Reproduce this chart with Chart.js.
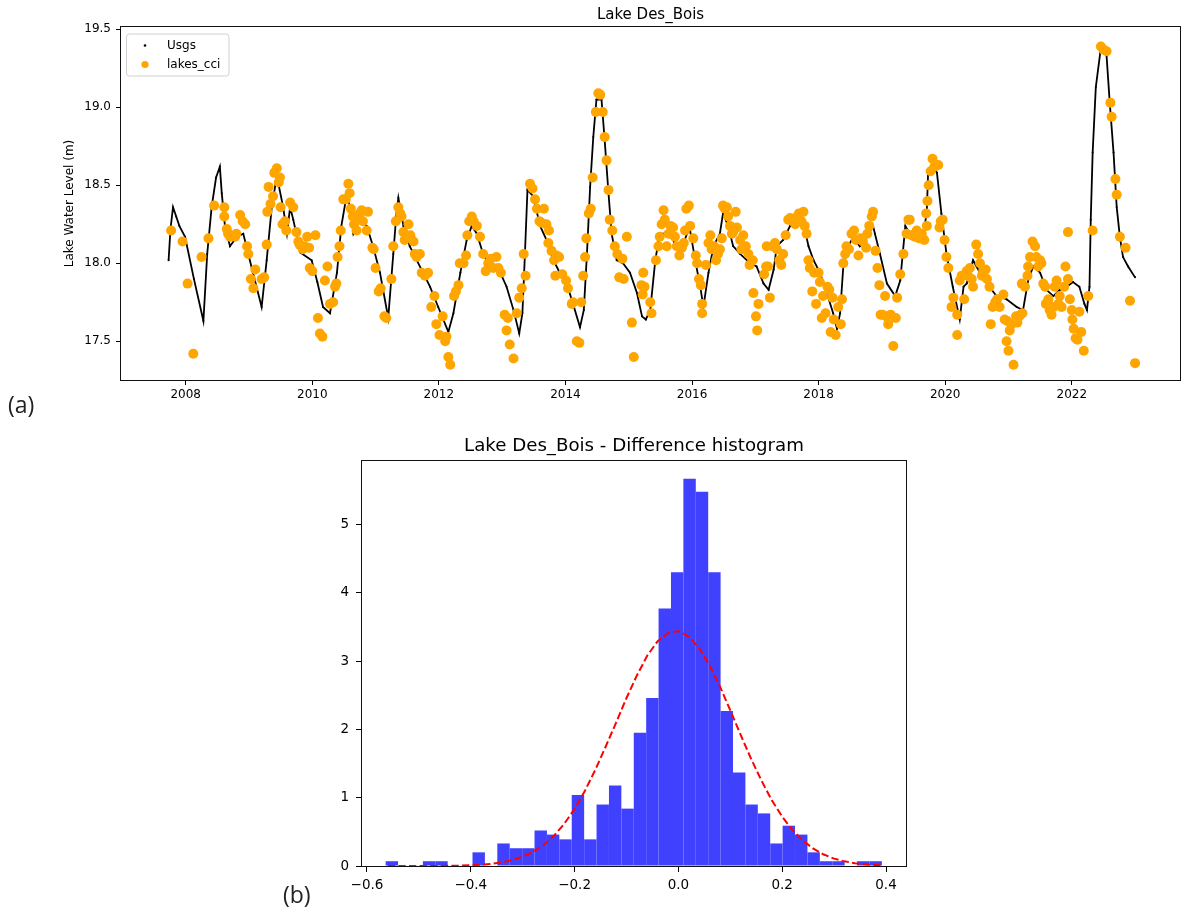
<!DOCTYPE html>
<html>
<head>
<meta charset="utf-8">
<title>Lake Des_Bois</title>
<script src="https://cdn.jsdelivr.net/npm/chart.js@4.4.0/dist/chart.umd.min.js"></script>
<style>
  html, body { margin: 0; padding: 0; background: #fff; }
  body { width: 1181px; height: 908px; position: relative; overflow: hidden; }
  canvas { position: absolute; left: 0; }
  #levelChart { top: 0; }
  #histChart { top: 420px; }
  .panel { position: absolute; font-family: "Open Sans", sans-serif; font-size: 23px; line-height: 23px; color: #222; }
</style>
</head>
<body>
<canvas id="levelChart" width="1181" height="420"></canvas>
<canvas id="histChart" width="1181" height="488"></canvas>
<div class="panel" style="left:8px; top:393px">(a)</div>
<div class="panel" style="left:283px; top:883px">(b)</div>
<script>
// ---- data ----
const levelTitle = 'Lake Des_Bois';
const levelAxisTitle = 'Lake Water Level (m)';
const histTitle = 'Lake Des_Bois - Difference histogram';

const yearTicks = [2008, 2010, 2012, 2014, 2016, 2018, 2020, 2022];
const levelTicks = [17.5, 18.0, 18.5, 19.0, 19.5];

// USGS gauge (decimal year, m)
const usgsYear = [
  2007.73, 2007.76, 2007.80, 2007.85, 2007.90, 2007.99, 2008.13, 2008.28, 2008.34, 2008.41,
  2008.48, 2008.54, 2008.57, 2008.62, 2008.70, 2008.81, 2008.91, 2009.05, 2009.20, 2009.28,
  2009.36, 2009.44, 2009.54, 2009.60, 2009.65, 2009.70, 2009.81, 2009.99, 2010.08, 2010.17,
  2010.28, 2010.39, 2010.46, 2010.54, 2010.60, 2010.65, 2010.75, 2010.86, 2010.96, 2011.07,
  2011.20, 2011.28, 2011.33, 2011.36, 2011.44, 2011.54, 2011.65, 2011.75, 2011.86, 2011.99,
  2012.07, 2012.15, 2012.23, 2012.34, 2012.44, 2012.52, 2012.60, 2012.70, 2012.81, 2012.97,
  2013.07, 2013.18, 2013.27, 2013.32, 2013.36, 2013.40, 2013.49, 2013.60, 2013.70, 2013.81,
  2013.91, 2014.02, 2014.12, 2014.23, 2014.29, 2014.34, 2014.39, 2014.44, 2014.49, 2014.57,
  2014.62, 2014.68, 2014.73, 2014.81, 2014.91, 2015.02, 2015.13, 2015.21, 2015.27, 2015.34,
  2015.42, 2015.49, 2015.60, 2015.70, 2015.81, 2015.92, 2015.97, 2016.05, 2016.13, 2016.18,
  2016.26, 2016.34, 2016.44, 2016.49, 2016.57, 2016.65, 2016.76, 2016.92, 2017.02, 2017.13,
  2017.21, 2017.29, 2017.34, 2017.44, 2017.55, 2017.65, 2017.76, 2017.84, 2017.92, 2018.02,
  2018.13, 2018.23, 2018.29, 2018.34, 2018.39, 2018.47, 2018.55, 2018.65, 2018.76, 2018.86,
  2018.89, 2018.97, 2019.08, 2019.21, 2019.29, 2019.37, 2019.44, 2019.55, 2019.65, 2019.71,
  2019.73, 2019.81, 2019.87, 2019.94, 2020.02, 2020.12, 2020.23, 2020.29, 2020.34, 2020.44,
  2020.55, 2020.66, 2020.81, 2020.97, 2021.13, 2021.23, 2021.31, 2021.39, 2021.50, 2021.60,
  2021.71, 2021.81, 2021.92, 2022.02, 2022.12, 2022.20, 2022.24, 2022.28, 2022.30, 2022.33,
  2022.38, 2022.45, 2022.51, 2022.55, 2022.60, 2022.66, 2022.71, 2022.76, 2022.81, 2022.89,
  2023.00
];
const usgsLevel = [
  18.02, 18.22, 18.36, 18.30, 18.24, 18.17, 17.90, 17.63, 18.06, 18.36,
  18.55, 18.62, 18.45, 18.24, 18.11, 18.17, 18.19, 17.96, 17.72, 18.02,
  18.36, 18.56, 18.36, 18.19, 18.36, 18.28, 18.07, 18.02, 17.88, 17.72,
  17.68, 17.94, 18.24, 18.43, 18.36, 18.19, 18.28, 18.24, 18.11, 17.94,
  17.65, 18.06, 18.32, 18.42, 18.24, 18.11, 18.02, 17.94, 17.85, 17.72,
  17.64, 17.56, 17.68, 17.94, 18.15, 18.24, 18.19, 18.06, 17.98, 17.94,
  17.85, 17.70, 17.55, 17.68, 18.06, 18.47, 18.43, 18.24, 18.15, 18.02,
  17.94, 17.87, 17.74, 17.59, 17.70, 18.06, 18.49, 18.81, 19.05, 19.05,
  18.79, 18.45, 18.19, 18.02, 18.00, 17.94, 17.81, 17.66, 17.64, 17.70,
  18.02, 18.19, 18.19, 18.15, 18.06, 18.19, 18.21, 18.02, 17.85, 17.72,
  17.94, 18.11, 18.19, 18.32, 18.24, 18.11, 18.06, 18.00, 17.98, 17.87,
  17.83, 17.96, 18.11, 18.15, 18.24, 18.28, 18.26, 18.11, 18.02, 17.94,
  17.81, 17.68, 17.58, 17.68, 17.98, 18.11, 18.17, 18.11, 18.17, 18.24,
  18.19, 18.06, 17.87, 17.79, 17.89, 18.24, 18.19, 18.19, 18.15, 18.34,
  18.58, 18.62, 18.58, 18.32, 18.06, 17.85, 17.64, 17.85, 17.87, 18.02,
  17.94, 17.87, 17.79, 17.77, 17.72, 17.70, 17.89, 17.98, 17.94, 17.83,
  17.79, 17.83, 17.85, 17.88, 17.85, 17.74, 17.70, 17.85, 18.28, 18.71,
  19.13, 19.35, 19.38, 19.33, 19.03, 18.71, 18.36, 18.17, 18.04, 17.98,
  17.91
];

// lakes_cci altimetry (decimal year, m)
const cciYear = [
  2007.77, 2007.95, 2008.03, 2008.12, 2008.25, 2008.36, 2008.45, 2008.61, 2008.61, 2008.65,
  2008.67, 2008.70, 2008.78, 2008.80, 2008.86, 2008.90, 2008.94, 2008.97, 2008.99, 2009.03,
  2009.07, 2009.10, 2009.20, 2009.24, 2009.28, 2009.29, 2009.31, 2009.34, 2009.38, 2009.40,
  2009.44, 2009.47, 2009.49, 2009.50, 2009.53, 2009.57, 2009.59, 2009.65, 2009.70, 2009.75,
  2009.78, 2009.80, 2009.85, 2009.88, 2009.92, 2009.95, 2009.96, 2010.00, 2010.05, 2010.09,
  2010.12, 2010.16, 2010.20, 2010.24, 2010.28, 2010.33, 2010.36, 2010.38, 2010.40, 2010.43,
  2010.45, 2010.49, 2010.53, 2010.57, 2010.59, 2010.61, 2010.64, 2010.66, 2010.70, 2010.73,
  2010.75, 2010.78, 2010.80, 2010.86, 2010.88, 2010.95, 2010.97, 2011.00, 2011.05, 2011.08,
  2011.14, 2011.17, 2011.25, 2011.28, 2011.32, 2011.36, 2011.39, 2011.41, 2011.44, 2011.46,
  2011.52, 2011.55, 2011.60, 2011.62, 2011.65, 2011.70, 2011.73, 2011.78, 2011.83, 2011.88,
  2011.93, 2011.96, 2012.01, 2012.06, 2012.10, 2012.12, 2012.15, 2012.18, 2012.24, 2012.27,
  2012.31, 2012.33, 2012.39, 2012.43, 2012.45, 2012.48, 2012.52, 2012.55, 2012.60, 2012.65,
  2012.70, 2012.74, 2012.78, 2012.82, 2012.86, 2012.91, 2012.94, 2012.98, 2013.04, 2013.07,
  2013.09, 2013.12, 2013.18, 2013.23, 2013.27, 2013.31, 2013.34, 2013.37, 2013.44, 2013.48,
  2013.52, 2013.55, 2013.59, 2013.62, 2013.66, 2013.70, 2013.73, 2013.74, 2013.78, 2013.82,
  2013.84, 2013.86, 2013.90, 2013.95, 2014.01, 2014.04, 2014.10, 2014.12, 2014.18, 2014.22,
  2014.25, 2014.28, 2014.31, 2014.33, 2014.37, 2014.40, 2014.43, 2014.48, 2014.52, 2014.55,
  2014.59, 2014.62, 2014.65, 2014.68, 2014.70, 2014.74, 2014.78, 2014.82, 2014.85, 2014.90,
  2014.92, 2014.97, 2015.05, 2015.08, 2015.20, 2015.23, 2015.25, 2015.22, 2015.34, 2015.36,
  2015.43, 2015.47, 2015.49, 2015.52, 2015.55, 2015.57, 2015.60, 2015.63, 2015.66, 2015.70,
  2015.73, 2015.76, 2015.80, 2015.84, 2015.87, 2015.89, 2015.91, 2015.95, 2015.97, 2016.02,
  2016.06, 2016.08, 2016.11, 2016.14, 2016.16, 2016.16, 2016.22, 2016.26, 2016.29, 2016.31,
  2016.35, 2016.38, 2016.41, 2016.44, 2016.47, 2016.49, 2016.52, 2016.55, 2016.57, 2016.60,
  2016.63, 2016.65, 2016.69, 2016.71, 2016.76, 2016.78, 2016.81, 2016.85, 2016.89, 2016.91,
  2016.96, 2016.97, 2017.01, 2017.03, 2017.05, 2017.14, 2017.17, 2017.18, 2017.20, 2017.23,
  2017.27, 2017.31, 2017.34, 2017.38, 2017.41, 2017.44, 2017.48, 2017.52, 2017.55, 2017.59,
  2017.63, 2017.66, 2017.69, 2017.73, 2017.76, 2017.78, 2017.81, 2017.84, 2017.86, 2017.90,
  2017.93, 2017.96, 2018.00, 2018.02, 2018.05, 2018.07, 2018.11, 2018.14, 2018.17, 2018.19,
  2018.22, 2018.24, 2018.27, 2018.31, 2018.35, 2018.37, 2018.39, 2018.42, 2018.44, 2018.48,
  2018.52, 2018.56, 2018.59, 2018.63, 2018.66, 2018.70, 2018.75, 2018.77, 2018.80, 2018.84,
  2018.86, 2018.90, 2018.93, 2018.96, 2018.98, 2019.01, 2019.05, 2019.07, 2019.10, 2019.14,
  2019.18, 2019.22, 2019.24, 2019.29, 2019.34, 2019.39, 2019.42, 2019.44, 2019.47, 2019.52,
  2019.55, 2019.59, 2019.63, 2019.67, 2019.71, 2019.70, 2019.72, 2019.74, 2019.77, 2019.80,
  2019.83, 2019.89, 2019.91, 2019.93, 2019.96, 2019.99, 2020.02, 2020.05, 2020.13, 2020.10,
  2020.19, 2020.19, 2020.23, 2020.26, 2020.30, 2020.34, 2020.36, 2020.39, 2020.42, 2020.44,
  2020.49, 2020.52, 2020.55, 2020.58, 2020.60, 2020.64, 2020.66, 2020.70, 2020.72, 2020.75,
  2020.79, 2020.82, 2020.86, 2020.92, 2020.94, 2020.98, 2020.97, 2021.00, 2021.02, 2021.05,
  2021.08, 2021.12, 2021.14, 2021.17, 2021.19, 2021.22, 2021.21, 2021.26, 2021.30, 2021.31,
  2021.34, 2021.38, 2021.42, 2021.44, 2021.47, 2021.50, 2021.52, 2021.55, 2021.58, 2021.59,
  2021.63, 2021.65, 2021.68, 2021.71, 2021.73, 2021.76, 2021.79, 2021.81, 2021.84, 2021.88,
  2021.90, 2021.94, 2021.94, 2021.97, 2022.00, 2022.01, 2022.03, 2022.06, 2022.09, 2022.12,
  2022.15, 2022.19, 2022.26, 2022.33, 2022.46, 2022.50, 2022.55, 2022.61, 2022.63, 2022.69,
  2022.71, 2022.76, 2022.85, 2022.92, 2023.00
];
const cciLevel = [
  18.21, 18.14, 17.87, 17.42, 18.04, 18.16, 18.37, 18.36, 18.30, 18.22,
  18.19, 18.17, 18.17, 18.19, 18.31, 18.27, 18.25, 18.11, 18.06, 17.90,
  17.84, 17.96, 17.90, 17.91, 18.12, 18.33, 18.49, 18.38, 18.43, 18.58,
  18.61, 18.52, 18.55, 18.36, 18.25, 18.27, 18.21, 18.39, 18.36, 18.20,
  18.14, 18.12, 18.09, 18.11, 18.17, 18.10, 17.97, 17.95, 18.18, 17.65,
  17.55, 17.53, 17.89, 17.98, 17.74, 17.75, 17.85, 17.87, 18.04, 18.11,
  18.21, 18.41, 18.41, 18.51, 18.45, 18.35, 18.30, 18.25, 18.21, 18.30,
  18.32, 18.34, 18.27, 18.21, 18.33, 18.10, 18.09, 17.97, 17.82, 17.84,
  17.66, 17.65, 17.90, 18.11, 18.27, 18.36, 18.32, 18.30, 18.20, 18.15,
  18.25, 18.18, 18.14, 18.06, 18.04, 18.06, 17.94, 17.92, 17.94, 17.72,
  17.79, 17.61, 17.54, 17.66, 17.50, 17.53, 17.40, 17.35, 17.79, 17.82,
  17.86, 18.00, 18.00, 18.05, 18.18, 18.27, 18.30, 18.27, 18.24, 18.17,
  18.06, 17.95, 18.00, 18.03, 17.97, 18.04, 17.97, 17.94, 17.67, 17.57,
  17.65, 17.48, 17.39, 17.68, 17.78, 17.84, 18.06, 17.92, 18.51, 18.48,
  18.41, 18.35, 18.27, 18.26, 18.35, 18.25, 18.13, 18.21, 18.08, 18.02,
  17.92, 18.05, 18.04, 17.93, 17.89, 17.84, 17.74, 17.75, 17.50, 17.49,
  17.75, 17.92, 18.04, 18.16, 18.32, 18.35, 18.55, 18.97, 19.09, 19.08,
  18.97, 18.81, 18.66, 18.47, 18.28, 18.21, 18.11, 18.06, 17.91, 18.03,
  17.90, 18.17, 17.62, 17.40, 17.86, 17.94, 17.85, 17.80, 17.75, 17.68,
  18.02, 18.11, 18.17, 18.25, 18.34, 18.28, 18.11, 18.19, 18.24, 18.23,
  18.17, 18.11, 18.05, 18.10, 18.13, 18.21, 18.35, 18.37, 18.24, 18.16,
  18.05, 18.00, 17.90, 17.86, 17.74, 17.68, 17.99, 18.13, 18.18, 18.09,
  18.11, 18.02, 18.06, 18.09, 18.16, 18.37, 18.35, 18.36, 18.30, 18.24,
  18.19, 18.20, 18.33, 18.23, 18.15, 18.09, 18.18, 18.11, 18.06, 17.99,
  18.02, 17.81, 17.66, 17.57, 17.74, 17.93, 17.98, 18.11, 17.98, 17.78,
  18.11, 18.13, 18.09, 18.02, 17.99, 18.06, 18.18, 18.28, 18.29, 18.27,
  18.25, 18.30, 18.32, 18.27, 18.33, 18.24, 18.19, 18.02, 17.97, 17.82,
  17.94, 17.74, 17.94, 17.88, 17.65, 17.79, 17.68, 17.85, 17.83, 17.56,
  17.78, 17.64, 17.54, 17.72, 17.61, 17.77, 18.00, 18.06, 18.11, 18.09,
  18.19, 18.21, 18.15, 18.05, 18.16, 18.14, 18.10, 18.19, 18.24, 18.30,
  18.33, 18.08, 17.97, 17.86, 17.67, 17.67, 17.79, 17.66, 17.61, 17.67,
  17.47, 17.65, 17.78, 17.93, 18.06, 18.19, 18.28, 18.28, 18.18, 18.17,
  18.21, 18.16, 18.19, 18.15, 18.24, 18.32, 18.40, 18.50, 18.59, 18.67,
  18.62, 18.63, 18.23, 18.27, 18.28, 18.15, 18.04, 17.97, 17.78, 17.72,
  17.67, 17.54, 17.89, 17.92, 17.77, 17.95, 17.92, 17.97, 17.90, 17.85,
  18.12, 18.06, 18.00, 17.92, 17.95, 17.96, 17.90, 17.85, 17.61, 17.72,
  17.75, 17.77, 17.72, 17.80, 17.64, 17.63, 17.50, 17.44, 17.57, 17.61,
  17.35, 17.66, 17.62, 17.66, 17.67, 17.68, 17.87, 17.85, 17.92, 17.98,
  18.04, 18.14, 18.11, 18.04, 17.98, 18.02, 18.00, 17.87, 17.85, 17.74,
  17.77, 17.70, 17.67, 17.72, 17.85, 17.89, 17.74, 17.79, 17.72, 17.85,
  17.98, 18.20, 17.90, 17.77, 17.70, 17.64, 17.58, 17.52, 17.51, 17.69,
  17.56, 17.44, 17.79, 18.21, 19.39, 19.37, 19.36, 19.03, 18.94, 18.54,
  18.44, 18.17, 18.10, 17.76, 17.36
];

// histogram of differences (density), 40 equal bins
const binStart = -0.564;
const binWidth = 0.0239;
const histDensity = [
  0.07, 0, 0, 0.07, 0.07, 0, 0, 0.20, 0, 0.33,
  0.26, 0.26, 0.52, 0.46, 0.39, 1.04, 0.39, 0.90, 1.18, 0.84,
  1.95, 2.46, 3.77, 4.30, 5.67, 5.48, 4.30, 2.27, 1.37, 0.90,
  0.77, 0.33, 0.59, 0.46, 0.20, 0.07, 0.07, 0, 0.07, 0.07
];
// fitted normal curve as drawn (red dashed)
const normX = [
  -0.56, -0.54, -0.52, -0.50, -0.48, -0.46, -0.44, -0.42, -0.40, -0.38,
  -0.36, -0.34, -0.32, -0.30, -0.28, -0.26, -0.24, -0.22, -0.20, -0.18,
  -0.16, -0.14, -0.12, -0.10, -0.08, -0.06, -0.04, -0.02, 0.00, 0.02,
  0.04, 0.06, 0.08, 0.10, 0.12, 0.14, 0.16, 0.18, 0.20, 0.22,
  0.24, 0.26, 0.28, 0.30, 0.32, 0.34, 0.36, 0.38, 0.39
];
const normY = [
  0.0000, 0.0001, 0.0002, 0.0004, 0.0008, 0.0016, 0.0030, 0.0057, 0.0104, 0.0184,
  0.0318, 0.0531, 0.0862, 0.136, 0.207, 0.307, 0.442, 0.617, 0.837, 1.103,
  1.41, 1.75, 2.10, 2.46, 2.79, 3.08, 3.29, 3.41, 3.44, 3.36,
  3.19, 2.94, 2.63, 2.28, 1.92, 1.57, 1.25, 0.962, 0.721, 0.524,
  0.370, 0.253, 0.168, 0.108, 0.068, 0.041, 0.0243, 0.014, 0.0104
];
const diffTicks = [-0.6, -0.4, -0.2, 0.0, 0.2, 0.4];
const densityTicks = [0, 1, 2, 3, 4, 5];

// ---- charts ----
Chart.defaults.font.family = '"DejaVu Sans", sans-serif';
Chart.defaults.color = '#000';
Chart.defaults.animation = false;

const FONT = '"DejaVu Sans", sans-serif';

// matplotlib-like box around the plot
const frame = {
  id: 'frame',
  afterDatasetsDraw(chart) {
    const { ctx, chartArea: a } = chart;
    ctx.save();
    ctx.strokeStyle = '#111';
    ctx.lineWidth = 1;
    ctx.strokeRect(Math.round(a.left) - 0.5, Math.round(a.top) - 0.5,
      Math.round(a.right - a.left) + 1, Math.round(a.bottom - a.top) + 1);
    ctx.restore();
  }
};

function tickScale(ticks) {
  return s => { s.ticks = ticks.map(v => ({ value: v })); };
}

const levelDecor = {
  id: 'levelDecor',
  afterDraw(chart) {
    const { ctx, chartArea: a } = chart;
    ctx.save();
    ctx.fillStyle = '#000';
    ctx.textAlign = 'center';
    ctx.textBaseline = 'middle';
    ctx.font = '15px ' + FONT;
    ctx.fillText(levelTitle, (a.left + a.right) / 2, 15);
    ctx.font = '12px ' + FONT;
    ctx.translate(70, (a.top + a.bottom) / 2);
    ctx.rotate(-Math.PI / 2);
    ctx.fillText(levelAxisTitle, 0, 0);
    ctx.restore();

    // legend box, upper left
    const x = a.left + 5.5, y = a.top + 7, w = 102.5, h = 42, r = 3;
    ctx.save();
    ctx.beginPath();
    ctx.moveTo(x + r, y);
    ctx.arcTo(x + w, y, x + w, y + h, r);
    ctx.arcTo(x + w, y + h, x, y + h, r);
    ctx.arcTo(x, y + h, x, y, r);
    ctx.arcTo(x, y, x + w, y, r);
    ctx.closePath();
    ctx.fillStyle = 'rgba(255,255,255,0.8)';
    ctx.fill();
    ctx.strokeStyle = '#d0d0d0';
    ctx.lineWidth = 1;
    ctx.stroke();

    ctx.fillStyle = '#000';
    ctx.beginPath(); ctx.arc(a.left + 24, a.top + 18.5, 1.3, 0, Math.PI * 2); ctx.fill();
    ctx.fillStyle = '#FFA500';
    ctx.beginPath(); ctx.arc(a.left + 24, a.top + 37.5, 3.6, 0, Math.PI * 2); ctx.fill();

    ctx.fillStyle = '#000';
    ctx.font = '12px ' + FONT;
    ctx.textAlign = 'left';
    ctx.textBaseline = 'middle';
    ctx.fillText('Usgs', a.left + 46, a.top + 18.5);
    ctx.fillText('lakes_cci', a.left + 46, a.top + 37.5);
    ctx.restore();
  }
};

new Chart(document.getElementById('levelChart'), {
  type: 'scatter',
  data: {
    datasets: [
      {
        label: 'Usgs',
        data: usgsYear.map((x, i) => ({ x: x, y: usgsLevel[i] })),
        showLine: true,
        borderColor: '#000',
        borderWidth: 1.8,
        pointRadius: 1,
        pointBackgroundColor: '#000',
        pointBorderWidth: 0,
        order: 2
      },
      {
        label: 'lakes_cci',
        data: cciYear.map((x, i) => ({ x: x, y: cciLevel[i] })),
        pointRadius: 5,
        pointBackgroundColor: '#FFA500',
        pointBorderWidth: 0,
        order: 1
      }
    ]
  },
  options: {
    responsive: false,
    animation: false,
    events: [],
    layout: { autoPadding: false, padding: { top: 27, right: 1, left: 0, bottom: 0 } },
    plugins: { legend: { display: false }, tooltip: { enabled: false } },
    scales: {
      x: {
        type: 'linear',
        min: 2006.978,
        max: 2023.71,
        afterBuildTicks: tickScale(yearTicks),
        afterFit: s => { s.height = 40; },
        ticks: { font: { size: 12 }, padding: 3, autoSkip: false, maxRotation: 0, callback: v => String(v) },
        grid: { drawOnChartArea: false, drawTicks: true, tickLength: 5, tickColor: '#000' },
        border: { display: false }
      },
      y: {
        min: 17.252,
        max: 19.515,
        afterBuildTicks: tickScale(levelTicks),
        afterFit: s => { s.width = 121; },
        ticks: { font: { size: 12 }, padding: 5, autoSkip: false, callback: v => v.toFixed(1) },
        grid: { drawOnChartArea: false, drawTicks: true, tickLength: 5, tickColor: '#000' },
        border: { display: false }
      }
    }
  },
  plugins: [frame, levelDecor]
});

const histDecor = {
  id: 'histDecor',
  afterDraw(chart) {
    const { ctx, chartArea: a } = chart;
    ctx.save();
    ctx.fillStyle = '#000';
    ctx.textAlign = 'center';
    ctx.textBaseline = 'middle';
    ctx.font = '18.2px ' + FONT;
    ctx.fillText(histTitle, (a.left + a.right) / 2, 26);
    ctx.restore();
  }
};

const binCenters = histDensity.map((_, i) => binStart + (i + 0.5) * binWidth);

new Chart(document.getElementById('histChart'), {
  type: 'bar',
  data: {
    datasets: [
      {
        type: 'bar',
        data: binCenters.map((x, i) => ({ x: x, y: histDensity[i] })),
        backgroundColor: '#4040ff',
        borderWidth: 0,
        barPercentage: 1,
        categoryPercentage: 1,
        inflateAmount: 0,
        order: 2
      },
      {
        type: 'line',
        data: normX.map((x, i) => ({ x: x, y: normY[i] })),
        borderColor: '#ff0000',
        borderWidth: 2,
        borderDash: [7.4, 3.2],
        pointRadius: 0,
        fill: false,
        order: 1
      }
    ]
  },
  options: {
    responsive: false,
    animation: false,
    events: [],
    layout: { autoPadding: false, padding: { top: 41, right: 275, left: 300, bottom: 0 } },
    plugins: { legend: { display: false }, tooltip: { enabled: false } },
    scales: {
      x: {
        type: 'linear',
        offset: false,
        min: -0.6096,
        max: 0.4385,
        afterBuildTicks: tickScale(diffTicks),
        afterFit: s => { s.height = 42; },
        ticks: { font: { size: 13.5 }, padding: 5, autoSkip: false, maxRotation: 0,
          callback: v => v.toFixed(1).replace('-', '\u2212') },
        grid: { offset: false, drawOnChartArea: false, drawTicks: true, tickLength: 6, tickColor: '#000' },
        border: { display: false }
      },
      y: {
        min: 0,
        max: 5.93,
        afterBuildTicks: tickScale(densityTicks),
        afterFit: s => { s.width = 62; },
        ticks: { font: { size: 13.5 }, padding: 7, autoSkip: false, callback: v => String(v) },
        grid: { drawOnChartArea: false, drawTicks: true, tickLength: 6, tickColor: '#000' },
        border: { display: false }
      }
    }
  },
  plugins: [frame, histDecor]
});
</script>
</body>
</html>
